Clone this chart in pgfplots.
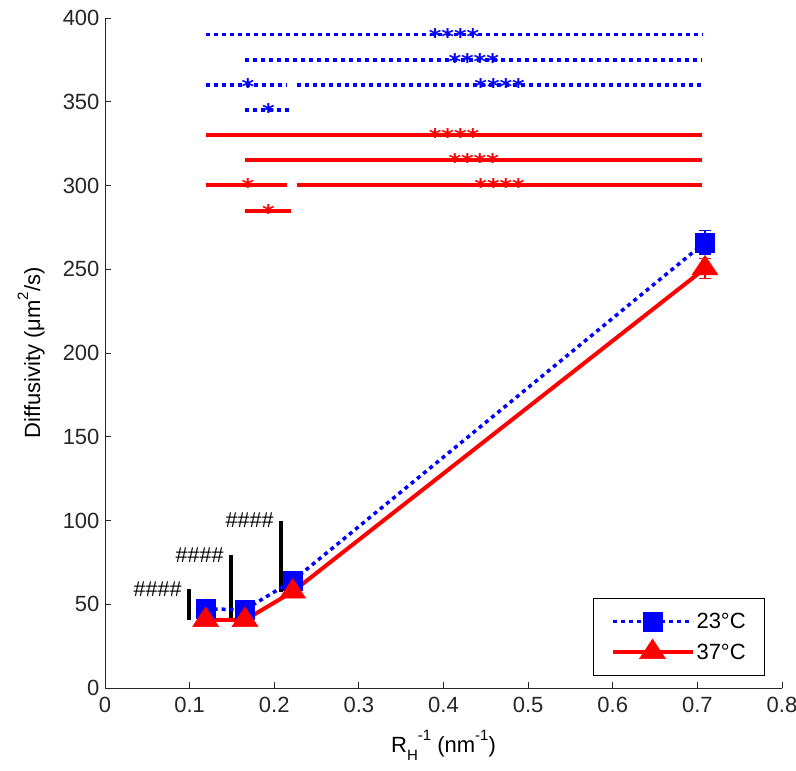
\documentclass[border=0pt]{standalone}
\usepackage{pgfplots}
\pgfplotsset{compat=1.18}
\usepackage{fontspec}
\setmainfont{Liberation Sans}
\newfontfamily\starfam{DejaVu Sans}
\definecolor{mblue}{RGB}{0,0,255}
\definecolor{mred}{RGB}{255,0,0}
\definecolor{axgray}{RGB}{38,38,38}
\newcommand{\bigf}{\fontsize{22}{26}\selectfont}
\newcommand{\hashf}{\fontsize{21.5}{24}\selectfont}
\newcommand{\starf}{\starfam\bfseries\fontsize{21.5}{24}\selectfont}
\newcommand{\smf}{\fontsize{15}{16}\selectfont}
\tikzset{stars/.style={font=\starf, anchor=base, inner sep=0pt, yshift=-9.5pt, xscale=1.12}}
\begin{document}
\begin{tikzpicture}
\begin{axis}[name=ax, scale only axis, width=677pt, height=670pt,
  xmin=0, xmax=0.8, ymin=0, ymax=400,
  axis lines=left, axis line style={-, line width=0.8pt, axgray},
  xtick={0,0.1,0.2,0.3,0.4,0.5,0.6,0.7,0.8},
  xticklabels={0,0.1,0.2,0.3,0.4,0.5,0.6,0.7,0.8},
  ytick={0,50,100,150,200,250,300,350,400},
  tick align=inside, major tick length=6pt,
  tick style={axgray, line width=0.8pt},
  /pgf/number format/assume math mode=true,
  ticklabel style={font=\bigf, text=axgray},
  xticklabel style={yshift=-6pt},
  yticklabel style={xshift=-2pt},
  xlabel={R\raisebox{-0.35em}{\smf H}\raisebox{0.55em}{\smf -1} (nm\raisebox{0.55em}{\smf -1})},
  ylabel={Diffusivity (μm\raisebox{0.55em}{\smf 2}/s)},
  label style={font=\bigf, text=black},
  x label style={at={(axis description cs:0.5,-0.085)}, anchor=center},
  y label style={at={(axis description cs:-0.109,0.5)}, anchor=center},
  clip=false,
  legend style={at={(axis description cs:0.975,0.018)}, anchor=south east,
    font=\bigf, draw=black, line width=0.8pt, fill=white,
    inner xsep=17pt, inner ysep=13pt, row sep=7pt},
  legend cell align=left,
  legend image code/.code={\draw[mark repeat=2,mark phase=2] plot coordinates {(0pt,0pt) (40pt,0pt) (80pt,0pt)};},
]
% significance lines (blue, 23 C)
\addplot[mblue, line width=3.5pt, dash pattern=on 4pt off 4pt, forget plot] coordinates {(0.119,390) (0.706,390)};
\addplot[mblue, line width=3.5pt, dash pattern=on 4pt off 4pt, forget plot] coordinates {(0.1654,375) (0.706,375)};
\addplot[mblue, line width=3.5pt, dash pattern=on 4pt off 4pt, forget plot] coordinates {(0.119,360) (0.215,360)};
\addplot[mblue, line width=3.5pt, dash pattern=on 4pt off 4pt, forget plot] coordinates {(0.2265,360) (0.706,360)};
\addplot[mblue, line width=3.5pt, dash pattern=on 4pt off 4pt, forget plot] coordinates {(0.1654,345) (0.2174,345)};
% significance lines (red, 37 C)
\addplot[mred, line width=4pt, forget plot] coordinates {(0.119,330) (0.706,330)};
\addplot[mred, line width=4pt, forget plot] coordinates {(0.1654,315) (0.706,315)};
\addplot[mred, line width=4pt, forget plot] coordinates {(0.119,300) (0.215,300)};
\addplot[mred, line width=4pt, forget plot] coordinates {(0.2265,300) (0.706,300)};
\addplot[mred, line width=4pt, forget plot] coordinates {(0.1654,285) (0.2194,285)};
% black bars
\addplot[black, line width=3.5pt, forget plot] coordinates {(0.0993,40.6) (0.0993,59)};
\addplot[black, line width=3.5pt, forget plot] coordinates {(0.1490,40.6) (0.1490,79.4)};
\addplot[black, line width=3.5pt, forget plot] coordinates {(0.2080,57.5) (0.2080,100)};
% data
\addplot[mblue, line width=3.5pt, dash pattern=on 4pt off 4pt, mark=square*, mark size=9.5pt,
  mark options={solid, line width=0.5pt},
  error bars/.cd, y dir=both, y explicit,
  error bar style={solid, line width=1.5pt},
  error mark options={rotate=90, mark size=6pt, line width=1.5pt, solid}]
  coordinates {(0.119,47.2) +- (0,1.5) (0.1654,46.8) +- (0,1.5) (0.2218,64) +- (0,2) (0.709,266) +- (0,7)};
\addlegendentry{23°C}
\addplot[mred, line width=4pt, mark=triangle*, mark size=15pt,
  mark options={solid, line width=0.5pt, yscale=0.87},
  error bars/.cd, y dir=both, y explicit,
  error bar style={line width=1.5pt},
  error mark options={rotate=90, mark size=6pt, line width=1.5pt}]
  coordinates {(0.119,40.6) +- (0,1.5) (0.1654,40.6) +- (0,1.5) (0.2218,57.5) +- (0,2) (0.709,250.5) +- (0,6)};
\addlegendentry{37°C}
% annotations
\node[mblue, stars] at (axis cs:0.4125,390) {****};
\node[mblue, stars] at (axis cs:0.4357,375) {****};
\node[mblue, stars] at (axis cs:0.169,360) {*};
\node[mblue, stars] at (axis cs:0.4663,360) {****};
\node[mblue, stars] at (axis cs:0.193,345) {*};
\node[mred, stars] at (axis cs:0.4125,330) {****};
\node[mred, stars] at (axis cs:0.4357,315) {****};
\node[mred, stars] at (axis cs:0.169,300) {*};
\node[mred, stars] at (axis cs:0.4663,300) {****};
\node[mred, stars] at (axis cs:0.193,285) {*};
\node[font=\hashf, anchor=east, xshift=-4pt] at (axis cs:0.0993,59) {\#\#\#\#};
\node[font=\hashf, anchor=east, xshift=-4pt] at (axis cs:0.1490,79.4) {\#\#\#\#};
\node[font=\hashf, anchor=east, xshift=-4pt] at (axis cs:0.2080,100) {\#\#\#\#};
\end{axis}
\pgfresetboundingbox
\path[use as bounding box] ([xshift=-105pt,yshift=-82pt]ax.south west) rectangle ([xshift=14pt,yshift=18pt]ax.north east);
\end{tikzpicture}
\end{document}
